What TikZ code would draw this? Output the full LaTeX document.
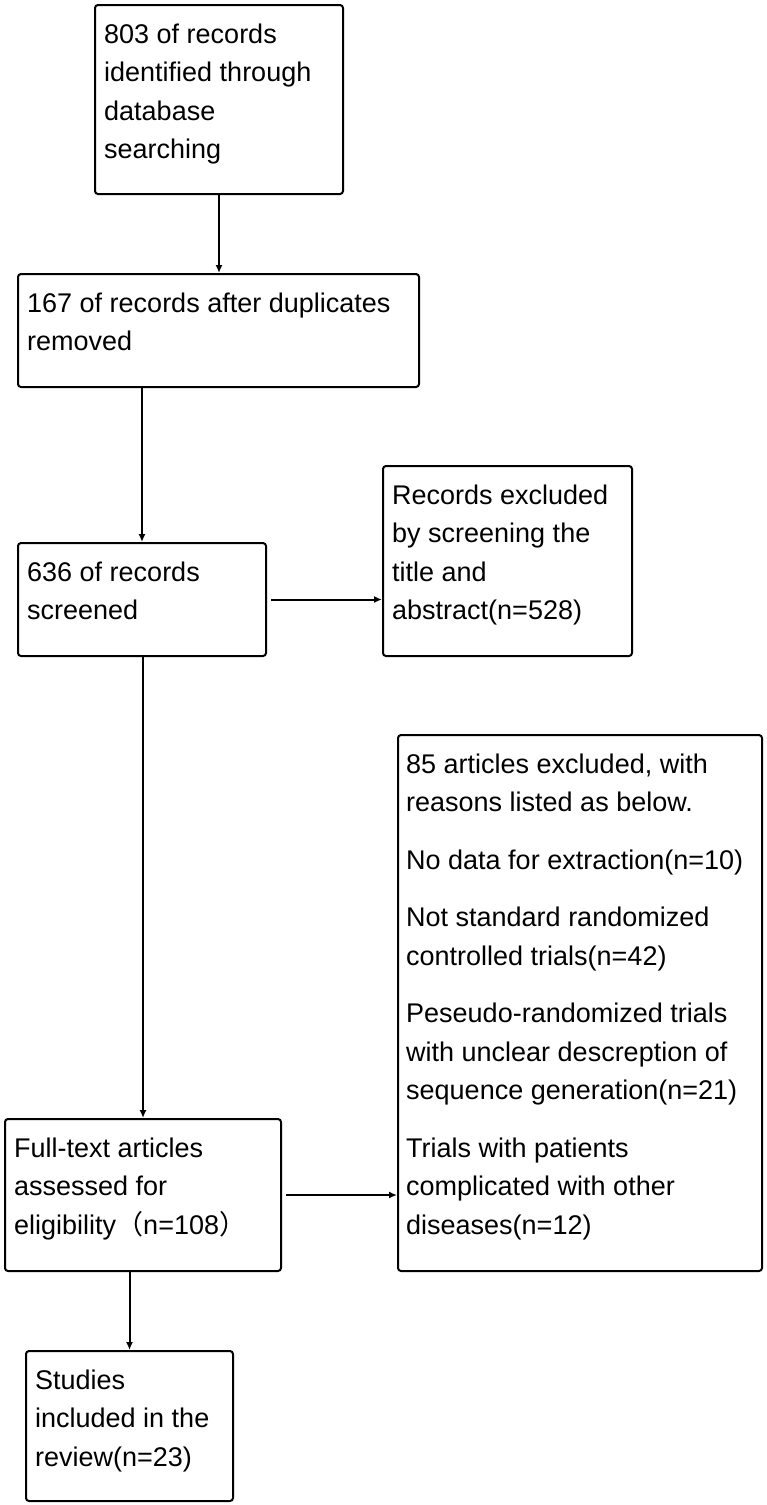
\documentclass[tikz,border=0pt]{standalone}
\usepackage{fontspec}
\setmainfont{Liberation Sans}
\newfontfamily\cjk{Noto Sans CJK SC}
\usetikzlibrary{arrows.meta}

\tikzset{
  flowbox/.style={draw=black, line width=2pt, rounded corners=3pt, inner sep=0pt, anchor=north west},
  flowtext/.style={font=\fontsize{27}{38.5}\selectfont, align=left, inner sep=0pt, anchor=north west},
  flowarrow/.style={line width=2pt, -{Latex[length=8pt,width=7pt]}}
}

\begin{document}
\begin{tikzpicture}[x=1pt, y=-1pt]
    \useasboundingbox (0,0) rectangle (766,1505);

    % boxes
    \node[flowbox, minimum width=248pt, minimum height=189pt] (search) at (94,4) {};
    \node[flowbox, minimum width=401pt, minimum height=113pt] (dedup) at (17,273) {};
    \node[flowbox, minimum width=248pt, minimum height=113pt] (screen) at (17,542) {};
    \node[flowbox, minimum width=249pt, minimum height=190pt] (excl) at (382,465) {};
    \node[flowbox, minimum width=364pt, minimum height=536pt] (reasons) at (397,734) {};
    \node[flowbox, minimum width=276pt, minimum height=152pt] (full) at (4,1118) {};
    \node[flowbox, minimum width=207pt, minimum height=150pt] (incl) at (25,1350) {};

    % texts
    \node[flowtext] (search-t) at ([shift={(10pt,-19.5pt)}]search.north west)
        {803 of records\\identified through\\database\\searching};
    \node[flowtext] (dedup-t) at ([shift={(10pt,-19.5pt)}]dedup.north west)
        {167 of records after duplicates\\removed};
    \node[flowtext] (screen-t) at ([shift={(10pt,-19.5pt)}]screen.north west)
        {636 of records\\screened};
    \node[flowtext] (excl-t) at ([shift={(10pt,-19.5pt)}]excl.north west)
        {Records excluded\\by screening the\\title and\\abstract(n=528)};
    \node[flowtext] (reasons-t) at ([shift={(9pt,-19.5pt)}]reasons.north west)
        {85 articles excluded, with\\reasons listed as below.\\[19pt]
         No data for extraction(n=10)\\[19pt]
         Not standard randomized\\controlled trials(n=42)\\[19pt]
         Peseudo-randomized trials\\with unclear descreption of\\sequence generation(n=21)\\[19pt]
         Trials with patients\\complicated with other\\diseases(n=12)};
    \node[flowtext] (full-t) at ([shift={(10pt,-19.5pt)}]full.north west)
        {Full-text articles\\assessed for\\eligibility{\cjk （}n=108{\cjk ）}};
    \node[flowtext] (incl-t) at ([shift={(10pt,-19.5pt)}]incl.north west)
        {Studies\\included in the\\review(n=23)};

    % arrows
    \draw[flowarrow] (search.south) -- (search.south |- dedup.north);
    \draw[flowarrow] (screen.north |- dedup.south) -- (screen.north);
    \draw[flowarrow, shorten <=4pt] (screen.east) -- (screen.east -| excl.west);
    \draw[flowarrow] (screen.south -| full.north) -- (full.north);
    \draw[flowarrow, shorten <=4pt] (full.east) -- (full.east -| reasons.west);
    \draw[flowarrow] (incl.north |- full.south) -- (incl.north);
\end{tikzpicture}
\end{document}
